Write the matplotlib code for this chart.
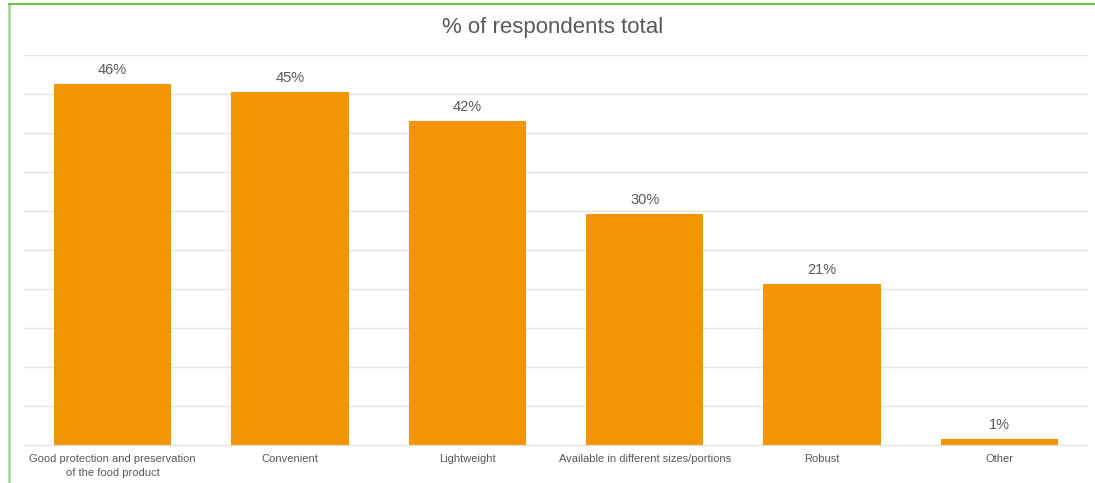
import matplotlib.pyplot as plt
from matplotlib.lines import Line2D
import numpy as np

plt.rcParams["font.family"] = ["Liberation Sans", "DejaVu Sans"]

# data
categories = [
    "Good protection and preservation\nof the food product",
    "Convenient",
    "Lightweight",
    "Available in different sizes/portions",
    "Robust",
    "Other",
]
values = [46.3, 45.2, 41.5, 29.6, 20.7, 0.8]

bar_color = "#F29500"
text_color = "#595959"
grid_color = "#e3e3e3"

W, H = 1095, 483
fig = plt.figure(figsize=(W / 100, H / 100), dpi=100)
ax = fig.add_axes([24 / W, 1 - 445 / H, (1088 - 24) / W, (445 - 55) / H])

x = np.arange(len(categories))
ax.bar(x, values, width=0.66, color=bar_color, zorder=3)
for xi, v in zip(x, values):
    ax.text(xi, v + 0.9, f"{v:.0f}%", ha="center", va="bottom",
            fontsize=10.5, color=text_color)

ax.set_xlim(-0.5, len(categories) - 0.5)
ax.set_ylim(0, 50)
ax.set_yticks(np.arange(0, 51, 5))
ax.yaxis.grid(True, color=grid_color, linewidth=1)
ax.set_axisbelow(True)
ax.tick_params(axis="y", left=False, labelleft=False)
ax.tick_params(axis="x", bottom=False, pad=3)
ax.set_xticks(x)
ax.set_xticklabels(categories, fontsize=8, color=text_color, linespacing=1.45)
for s in ["top", "right", "left"]:
    ax.spines[s].set_visible(False)
ax.spines["bottom"].set_color(grid_color)

fig.text(553 / W, 1 - 27 / H, "% of respondents total", ha="center",
         va="center", fontsize=16, color=text_color)

# green frame
fig.add_artist(Line2D([9 / W, 9 / W], [0, 1 - 4 / H], color="#a9d69a", linewidth=2))
fig.add_artist(Line2D([9 / W, 1], [1 - 4 / H, 1 - 4 / H], color="#5cb33d", linewidth=1.2))

plt.savefig("out.png", dpi=100)
